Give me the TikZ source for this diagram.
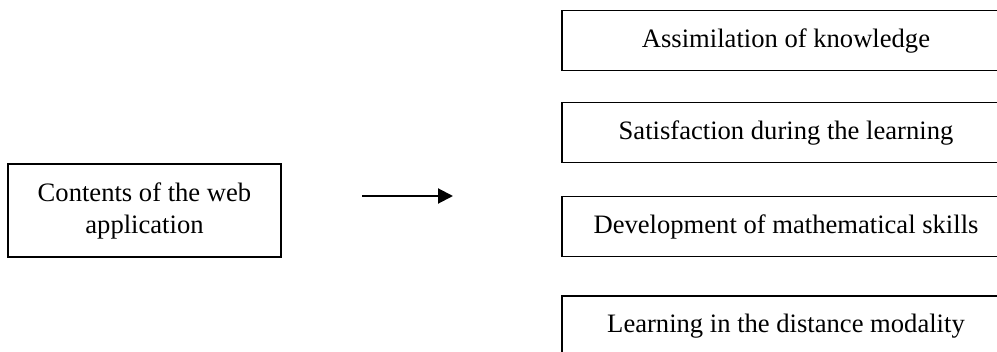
\documentclass[tikz,border=0pt]{standalone}
\usepackage{fontspec}
\setmainfont{Liberation Serif}
\usetikzlibrary{arrows.meta}

\begin{document}
\begin{tikzpicture}[x=0.5pt,y=-0.5pt,
  box/.style={draw,line width=0.8pt,align=center,inner sep=0pt,font=\fontsize{13.3}{16}\selectfont},
  outcome/.style={box,minimum width=224pt,minimum height=30pt}]
\useasboundingbox (0,0) rectangle (997,352);
\clip (0,0) rectangle (997,352);

\node[box,minimum width=136.5pt,minimum height=46.5pt] (contents) at (144.5,210.5) {Contents of the web\\application};

\coordinate (from) at (362,196);
\coordinate (to) at (453,196);
\draw[line width=1pt,-{Triangle[length=7.5pt,width=7.5pt]}] (from) -- (to);

\node[outcome] (o1) at (786,40.7) {Assimilation of knowledge};
\node[outcome] (o2) at (786,132.7) {Satisfaction during the learning};
\node[outcome] (o3) at (786,226.7) {Development of mathematical skills};
\node[outcome] (o4) at (786,326) {Learning in the distance modality};
\end{tikzpicture}
\end{document}
